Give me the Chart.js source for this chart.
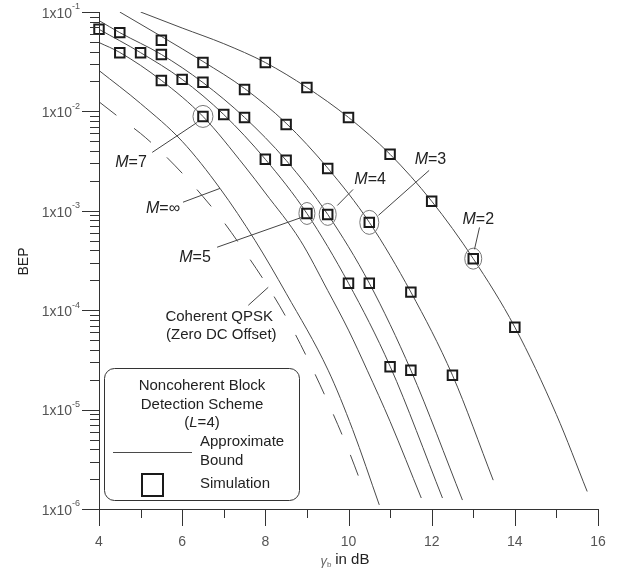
<!DOCTYPE html>
<html>
<head>
<meta charset="utf-8">
<script src="https://cdn.jsdelivr.net/npm/chart.js@4.4.1/dist/chart.umd.min.js"></script>
<style>
  html, body { margin: 0; padding: 0; background: #fff; }
  #wrap { width: 626px; height: 574px; }
</style>
</head>
<body>
<div id="wrap"><canvas id="bepChart"></canvas></div>
<script>
// approximate bounds (gamma_b in dB -> BEP)
const boundM2X = [5.0, 6, 7, 8, 9, 10, 11, 12, 13, 14, 15, 15.74];
const boundM2Y = [1.0e-1, 6.9e-2, 4.8e-2, 3.1e-2, 1.74e-2, 8.7e-3, 3.7e-3, 1.25e-3, 3.3e-4, 6.75e-5, 8.9e-6, 1.5e-6];
const boundM3X = [4.5, 5.5, 6.5, 7.5, 8.5, 9.5, 10.5, 11.5, 12.5, 13.48];
const boundM3Y = [1.0e-1, 5.68e-2, 3.18e-2, 1.7e-2, 7.6e-3, 2.69e-3, 7.66e-4, 1.52e-4, 2.22e-5, 1.95e-6];
const boundM4X = [4, 4.5, 5.5, 6.5, 7.5, 8.5, 9.5, 10.5, 11.5, 12.74];
const boundM4Y = [8.2e-2, 6.2e-2, 3.74e-2, 1.95e-2, 8.7e-3, 3.22e-3, 9.2e-4, 1.87e-4, 2.49e-5, 1.23e-6];
const boundM5X = [4, 5, 6, 7, 8, 9, 10, 11, 12.26];
const boundM5Y = [6.7e-2, 3.9e-2, 2.1e-2, 9.3e-3, 3.3e-3, 9.4e-4, 1.87e-4, 2.73e-5, 1.29e-6];
const boundM7X = [4, 4.5, 5.5, 6.5, 7.5, 8, 8.84, 9.5, 10, 10.45, 11, 11.75];
const boundM7Y = [4.93e-2, 3.92e-2, 2.05e-2, 8.9e-3, 2.82e-3, 1.51e-3, 5.05e-4, 1.58e-4, 6.3e-5, 2.49e-5, 7.6e-6, 1.29e-6];
const boundInfX = [4, 5, 6, 6.91, 7.75, 8.5, 9.51, 10.1, 10.74];
const boundInfY = [2.58e-2, 1.2e-2, 5.0e-3, 1.68e-3, 5.05e-4, 1.48e-4, 2.49e-5, 6.3e-6, 1.1e-6];
// coherent QPSK, zero DC offset (dashed)
const qpskX = [4, 4.5, 5, 5.5, 6, 6.5, 7, 7.5, 8, 8.5, 9, 9.5, 10, 10.33];
const qpskY = [1.25e-2, 8.6e-3, 6.0e-3, 3.9e-3, 2.39e-3, 1.39e-3, 7.7e-4, 3.9e-4, 1.9e-4, 8.5e-5, 3.36e-5, 1.2e-5, 3.9e-6, 1.7e-6];

// simulation points
const simM2X = [8, 9, 10, 11, 12, 13, 14];
const simM2Y = [3.1e-2, 1.74e-2, 8.7e-3, 3.7e-3, 1.25e-3, 3.3e-4, 6.75e-5];
const simM3X = [5.5, 6.5, 7.5, 8.5, 9.5, 10.5, 11.5, 12.5];
const simM3Y = [5.2e-2, 3.1e-2, 1.66e-2, 7.4e-3, 2.67e-3, 7.65e-4, 1.52e-4, 2.22e-5];
const simM4X = [4.5, 5.5, 6.5, 7.5, 8.5, 9.5, 10.5, 11.5];
const simM4Y = [6.2e-2, 3.74e-2, 1.96e-2, 8.7e-3, 3.22e-3, 9.2e-4, 1.87e-4, 2.49e-5];
const simM5X = [4, 5, 6, 7, 8, 9, 10, 11];
const simM5Y = [6.7e-2, 3.9e-2, 2.1e-2, 9.3e-3, 3.3e-3, 9.4e-4, 1.87e-4, 2.7e-5];
const simM7X = [4.5, 5.5, 6.5];
const simM7Y = [3.9e-2, 2.05e-2, 8.9e-3];

// axes
const xTickLabels = [4, 6, 8, 10, 12, 14, 16];
const xMinorTicks = [5, 7, 9, 11, 13, 15];
const yTickExps = [-1, -2, -3, -4, -5, -6];
const yMinorMults = [2, 3, 4, 5, 6, 7, 8, 9];

const FONT = "'Liberation Sans', Arial, sans-serif";
const INK = '#222';
const LINE = '#4a4a4a';

function pts(xs, ys) {
  return xs.map((x, i) => ({ x: x, y: ys[i] }));
}

function boundSet(xs, ys, dash) {
  return {
    data: pts(xs, ys),
    borderColor: LINE,
    borderWidth: 1,
    borderDash: dash || [],
    pointRadius: 0,
    cubicInterpolationMode: 'monotone',
    fill: false,
    order: 2,
  };
}

function simSet(xs, ys) {
  return {
    type: 'scatter',
    data: pts(xs, ys),
    showLine: false,
    pointStyle: 'rect',
    pointRadius: 6.7,
    pointBorderWidth: 2,
    borderColor: '#1a1a1a',
    backgroundColor: 'rgba(0,0,0,0)',
    clip: false,
    order: 1,
  };
}

// text made of plain / italic pieces, centred on (cx, cy)
function drawParts(ctx, parts, cx, cy, size, align) {
  let w = 0;
  parts.forEach((p) => {
    ctx.font = (p.i ? 'italic ' : '') + size + 'px ' + FONT;
    p.w = ctx.measureText(p.t).width;
    w += p.w;
  });
  let x = align === 'left' ? cx : cx - w / 2;
  ctx.textAlign = 'left';
  ctx.textBaseline = 'middle';
  parts.forEach((p) => {
    ctx.font = (p.i ? 'italic ' : '') + size + 'px ' + FONT;
    ctx.fillText(p.t, x, cy);
    x += p.w;
  });
}

// callouts in data units: label centre, leader start, leader end
const callouts = [
  { parts: [{ t: 'M', i: true }, { t: '=7' }], at: [4.77, 3.07e-3], from: [5.28, 3.87e-3], to: [6.36, 7.74e-3] },
  { parts: [{ t: 'M', i: true }, { t: '=\u221E' }], at: [5.54, 1.06e-3], from: [6.02, 1.22e-3], to: [6.91, 1.68e-3] },
  { parts: [{ t: 'M', i: true }, { t: '=5' }], at: [6.31, 3.41e-4], from: [6.84, 4.3e-4], to: [8.88, 8.6e-4] },
  { parts: [{ t: 'M', i: true }, { t: '=4' }], at: [10.52, 2.07e-3], from: [10.11, 1.64e-3], to: [9.73, 1.13e-3] },
  { parts: [{ t: 'M', i: true }, { t: '=3' }], at: [11.97, 3.3e-3], from: [11.94, 2.55e-3], to: [10.72, 9.0e-4] },
  { parts: [{ t: 'M', i: true }, { t: '=2' }], at: [13.12, 8.2e-4], from: [13.15, 6.8e-4], to: [13.03, 4.1e-4] },
];
const circled = [
  [simM7X[2], simM7Y[2], 10, 11],
  [simM5X[5], simM5Y[5], 8, 11],
  [simM4X[5], simM4Y[5], 8.5, 11],
  [simM3X[5], simM3Y[5], 9.5, 12],
  [simM2X[5], simM2Y[5], 8.5, 10.5],
];

const figureDecor = {
  id: 'figureDecor',
  afterDraw(chart) {
    const ctx = chart.ctx;
    const xs = chart.scales.x;
    const ys = chart.scales.y;
    const ca = chart.chartArea;
    const P = (x, y) => [xs.getPixelForValue(x), ys.getPixelForValue(y)];
    ctx.save();

    // axis lines and ticks
    ctx.strokeStyle = '#333';
    ctx.lineWidth = 1;
    ctx.beginPath();
    ctx.moveTo(ca.left + 0.5, ca.top);
    ctx.lineTo(ca.left + 0.5, ca.bottom + 17);
    ctx.moveTo(ca.left - 17, Math.round(ca.bottom) + 0.5);
    ctx.lineTo(ca.right, Math.round(ca.bottom) + 0.5);
    xTickLabels.forEach((v) => {
      const x = Math.round(xs.getPixelForValue(v)) + 0.5;
      ctx.moveTo(x, ca.bottom);
      ctx.lineTo(x, ca.bottom + 17);
    });
    xMinorTicks.forEach((v) => {
      const x = Math.round(xs.getPixelForValue(v)) + 0.5;
      ctx.moveTo(x, ca.bottom);
      ctx.lineTo(x, ca.bottom + 9);
    });
    yTickExps.forEach((e) => {
      const y = Math.round(ys.getPixelForValue(Math.pow(10, e))) + 0.5;
      ctx.moveTo(ca.left - 17, y);
      ctx.lineTo(ca.left, y);
      if (e < -1) {
        yMinorMults.forEach((m) => {
          const ym = Math.round(ys.getPixelForValue(m * Math.pow(10, e))) + 0.5;
          ctx.moveTo(ca.left - 9, ym);
          ctx.lineTo(ca.left, ym);
        });
      }
    });
    ctx.stroke();

    // tick labels
    ctx.fillStyle = '#555';
    ctx.textBaseline = 'middle';
    xTickLabels.forEach((v) => {
      ctx.font = '14px ' + FONT;
      ctx.textAlign = 'center';
      ctx.fillText(String(v), xs.getPixelForValue(v), ca.bottom + 33);
    });
    yTickExps.forEach((e) => {
      const y = ys.getPixelForValue(Math.pow(10, e));
      const right = ca.left - 19;
      ctx.font = '9px ' + FONT;
      const ew = ctx.measureText(String(e)).width;
      ctx.textAlign = 'left';
      ctx.fillText(String(e), right - ew, y - 5);
      ctx.font = '14px ' + FONT;
      ctx.textAlign = 'right';
      ctx.fillText('1x10', right - ew, y + 2);
    });

    // axis titles
    ctx.fillStyle = INK;
    ctx.save();
    ctx.translate(24, (ca.top + ca.bottom) / 2 + 1);
    ctx.rotate(-Math.PI / 2);
    ctx.font = '14px ' + FONT;
    ctx.textAlign = 'center';
    ctx.fillText('BEP', 0, 0);
    ctx.restore();
    const tx = (ca.left + ca.right) / 2 - 3;
    const ty = ca.bottom + 51;
    ctx.font = '15px ' + FONT;
    const restW = ctx.measureText(' in dB').width;
    ctx.font = 'italic 13px ' + FONT;
    const gW = ctx.measureText('\u03B3').width;
    const x0 = tx - (gW + 5 + restW) / 2;
    ctx.fillStyle = '#666';
    ctx.textAlign = 'left';
    ctx.fillText('\u03B3', x0, ty + 1);
    ctx.font = '8px ' + FONT;
    ctx.fillText('b', x0 + gW, ty + 5);
    ctx.fillStyle = INK;
    ctx.font = '15px ' + FONT;
    ctx.fillText(' in dB', x0 + gW + 4, ty);

    // circles round selected simulation points
    ctx.strokeStyle = '#777';
    ctx.lineWidth = 1;
    circled.forEach((c) => {
      const [cx, cy] = P(c[0], c[1]);
      ctx.beginPath();
      ctx.ellipse(cx, cy, c[2], c[3], 0, 0, Math.PI * 2);
      ctx.stroke();
    });

    // callouts
    ctx.strokeStyle = '#444';
    callouts.forEach((c) => {
      const a = P(c.from[0], c.from[1]);
      const b = P(c.to[0], c.to[1]);
      ctx.beginPath();
      ctx.moveTo(a[0], a[1]);
      ctx.lineTo(b[0], b[1]);
      ctx.stroke();
      const t = P(c.at[0], c.at[1]);
      ctx.fillStyle = INK;
      drawParts(ctx, c.parts, t[0], t[1], 16);
    });
    const q1 = P(7.59, 1.12e-4);
    const q2 = P(8.07, 1.7e-4);
    ctx.beginPath();
    ctx.moveTo(q1[0], q1[1]);
    ctx.lineTo(q2[0], q2[1]);
    ctx.stroke();
    const qa = P(6.89, 8.5e-5);
    const qb = P(6.94, 5.6e-5);
    drawParts(ctx, [{ t: 'Coherent QPSK' }], qa[0], qa[1], 15);
    drawParts(ctx, [{ t: '(Zero DC Offset)' }], qb[0], qb[1], 15);

    // legend box
    const bx = ca.left + 5;
    const by = ca.bottom - 141;
    const bw = 195;
    const bh = 132;
    ctx.fillStyle = '#fff';
    ctx.strokeStyle = '#333';
    ctx.beginPath();
    ctx.roundRect(bx + 0.5, by + 0.5, bw, bh, 10);
    ctx.fill();
    ctx.stroke();
    ctx.fillStyle = INK;
    const mid = bx + 98;
    drawParts(ctx, [{ t: 'Noncoherent Block' }], mid, by + 18, 15);
    drawParts(ctx, [{ t: 'Detection Scheme' }], mid, by + 37, 15);
    drawParts(ctx, [{ t: '(' }, { t: 'L', i: true }, { t: '=4)' }], mid, by + 55, 15);
    ctx.strokeStyle = LINE;
    ctx.beginPath();
    ctx.moveTo(bx + 9, by + 84.5);
    ctx.lineTo(bx + 88, by + 84.5);
    ctx.stroke();
    drawParts(ctx, [{ t: 'Approximate' }], bx + 96, by + 74, 15, 'left');
    drawParts(ctx, [{ t: 'Bound' }], bx + 96, by + 93, 15, 'left');
    ctx.strokeStyle = '#1a1a1a';
    ctx.lineWidth = 2;
    ctx.strokeRect(bx + 38, by + 106, 21, 22);
    drawParts(ctx, [{ t: 'Simulation' }], bx + 96, by + 116, 15, 'left');

    ctx.restore();
  },
};

const datasets = [
  simSet(simM2X, simM2Y),
  simSet(simM3X, simM3Y),
  simSet(simM4X, simM4Y),
  simSet(simM5X, simM5Y),
  simSet(simM7X, simM7Y),
  boundSet(boundM2X, boundM2Y),
  boundSet(boundM3X, boundM3Y),
  boundSet(boundM4X, boundM4Y),
  boundSet(boundM5X, boundM5Y),
  boundSet(boundM7X, boundM7Y),
  boundSet(boundInfX, boundInfY),
  boundSet(qpskX, qpskY, [22, 22]),
];

const bepCtx = document.getElementById('bepChart').getContext('2d');
const bepChart = new Chart(bepCtx, {
  type: 'line',
  data: { datasets: datasets },
  options: {
    responsive: true,
    maintainAspectRatio: false,
    animation: false,
    layout: { padding: { left: 99, top: 12, right: 28, bottom: 65 } },
    plugins: {
      legend: { display: false },
      tooltip: { enabled: false },
    },
    scales: {
      x: { type: 'linear', min: 4, max: 16, display: false },
      y: { type: 'logarithmic', min: 1e-6, max: 1e-1, display: false },
    },
  },
  plugins: [figureDecor],
});
</script>
</body>
</html>
